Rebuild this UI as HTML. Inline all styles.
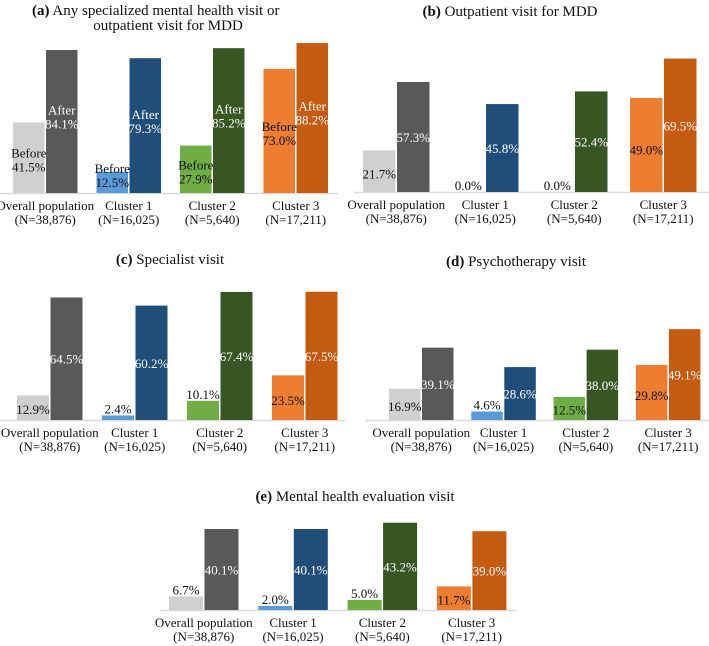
<!DOCTYPE html>
<html><head><meta charset="utf-8"><style>
body{margin:0;background:#fff;}
svg{display:block;font-family:"Liberation Serif",serif;}
</style></head><body>
<svg id="chart" width="709" height="646">
<g font-size="15" fill="#111">
<text x="32" y="15"><tspan font-weight="bold">(a)</tspan> Any specialized mental health visit or</text>
<text x="168" y="30" text-anchor="middle">outpatient visit for MDD</text>
<text x="510" y="16" text-anchor="middle"><tspan font-weight="bold">(b)</tspan> Outpatient visit for MDD</text>
<text x="170" y="264" text-anchor="middle"><tspan font-weight="bold">(c)</tspan> Specialist visit</text>
<text x="516" y="266" text-anchor="middle"><tspan font-weight="bold">(d)</tspan> Psychotherapy visit</text>
<text x="355" y="501" text-anchor="middle"><tspan font-weight="bold">(e)</tspan> Mental health evaluation visit</text>
</g>
</svg>
<script>
const categories = ["Overall population", "Cluster 1", "Cluster 2", "Cluster 3"];
const sampleSizes = ["(N=38,876)", "(N=16,025)", "(N=5,640)", "(N=17,211)"];
const beforeA = [41.5, 12.5, 27.9, 73.0];
const afterA = [84.1, 79.3, 85.2, 88.2];
const beforeB = [21.7, 0.0, 0.0, 49.0];
const afterB = [57.3, 45.8, 52.4, 69.5];
const beforeC = [12.9, 2.4, 10.1, 23.5];
const afterC = [64.5, 60.2, 67.4, 67.5];
const beforeD = [16.9, 4.6, 12.5, 29.8];
const afterD = [39.1, 28.6, 38.0, 49.1];
const beforeE = [6.7, 2.0, 5.0, 11.7];
const afterE = [40.1, 40.1, 43.2, 39.0];

const beforeColors = ["#d0d0d0", "#5b9bd5", "#70ad47", "#ed7d31"];
const afterColors = ["#595959", "#1f4e79", "#375623", "#c55a11"];
const NS = "http://www.w3.org/2000/svg";
const svg = document.getElementById("chart");

function mk(tag, attrs, parent){
  const el = document.createElementNS(NS, tag);
  for (const k in attrs) el.setAttribute(k, attrs[k]);
  parent.appendChild(el);
  return el;
}

function drawPanel(id, before, after, cfg){
  const g = mk("g", {}, svg);
  
  
  const y = v => cfg.base - v * cfg.scale;
  const line = mk("line", {x1: cfg.ax0, x2: cfg.ax1, y1: cfg.base + 0.5, y2: cfg.base + 0.5, stroke: "#d9d9d9", "stroke-width": 1.5}, g);
  
  
  categories.forEach((c, i) => {
    const x0 = cfg.x0 + i * cfg.step;
    const w = cfg.bw;
    [[before[i], beforeColors[i], x0, "before"], [after[i], afterColors[i], x0 + w + 1.5, "after"]].forEach(([v, col, x, kind]) => {
      const h = cfg.base - y(v);
      const r = mk("rect", {x: x, y: y(v), width: w, height: Math.max(h, 0), fill: col}, g);
      
      
      const label = v.toFixed(1) + "%";
      let ty, fill;
      const two = cfg.words;
      if (kind === "after") { fill = "#fff"; ty = cfg.base - h * (two ? 0.55 : 0.5); }
      else {
        fill = "#111";
        if (h > (two ? 30 : 20)) ty = cfg.base - h * (two ? 0.5 : 0.45);
        else ty = y(v) - (two ? 4 : 7);
        if (two && h <= 30) ty = cfg.base - 20;
      }
      const t = mk("text", {x: x + w / 2, "text-anchor": "middle", "font-size": 13, fill: fill}, g);
      
      
      if (two) {
        const a = mk("tspan", {x: x + w / 2, y: ty}, t); a.textContent = kind === "after" ? "After" : "Before";
        const b = mk("tspan", {x: x + w / 2, y: ty + 14}, t); b.textContent = label;
      } else { t.setAttribute("y", ty + 5); t.textContent = label; }
    });
    const cx = x0 + w + 0.75;
    const t1 = mk("text", {x: cx, y: cfg.base + 17, "text-anchor": "middle", "font-size": 13, fill: "#111"}, g);
    
    
    t1.textContent = c;
    const t2 = mk("text", {x: cx, y: cfg.base + 31, "text-anchor": "middle", "font-size": 13, fill: "#111"}, g);
    
    
    t2.textContent = sampleSizes[i];
  });
}

drawPanel("a", beforeA, afterA, {base: 193, scale: 1.70, x0: 13, step: 83.5, bw: 31.5, ax0: 0, ax1: 338, words: true});
drawPanel("b", beforeB, afterB, {base: 192, scale: 1.92, x0: 363, step: 89, bw: 32.5, ax0: 354, ax1: 709, words: false});
drawPanel("c", beforeC, afterC, {base: 420, scale: 1.90, x0: 17, step: 85, bw: 32, ax0: 0, ax1: 345, words: false});
drawPanel("d", beforeD, afterD, {base: 420, scale: 1.85, x0: 389, step: 82.3, bw: 31.5, ax0: 365, ax1: 709, words: false});
drawPanel("e", beforeE, afterE, {base: 610, scale: 2.02, x0: 169, step: 89.3, bw: 34, ax0: 160, ax1: 516, words: false});
</script>
</body></html>
